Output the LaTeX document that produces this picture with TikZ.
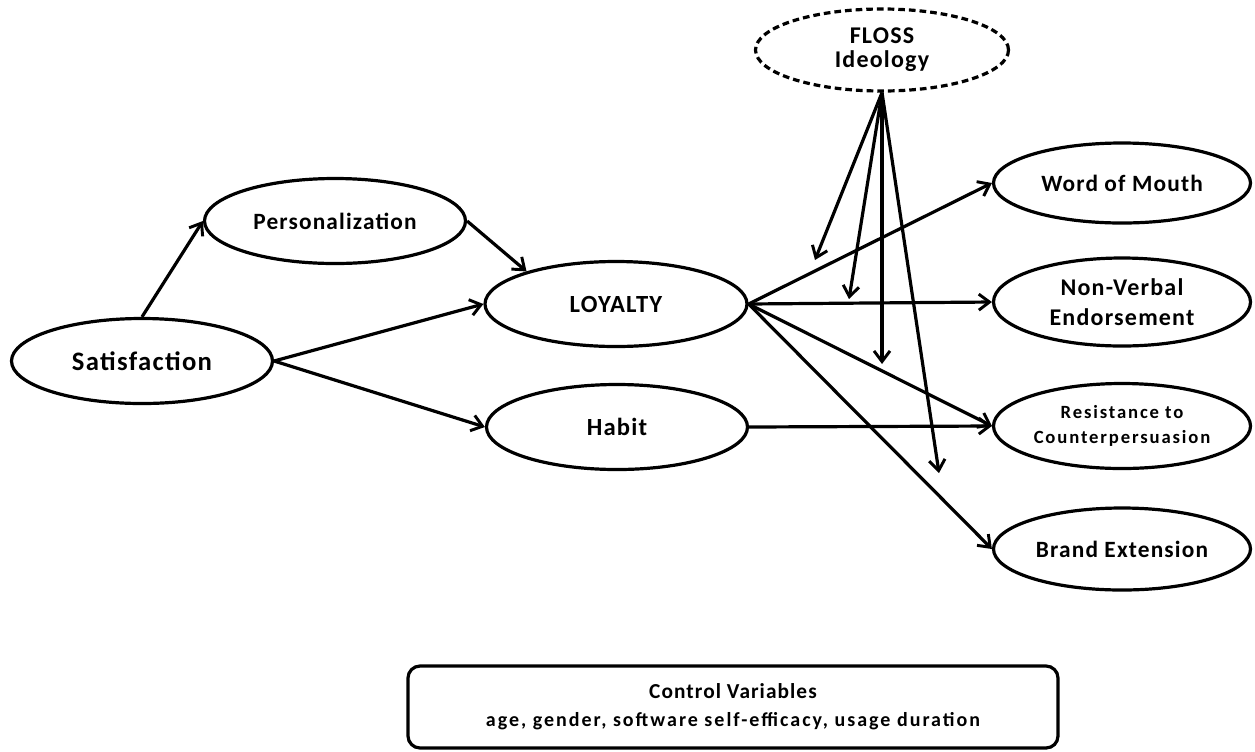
\documentclass[tikz,border=0pt]{standalone}
\usepackage{fontspec}
\setmainfont{Carlito}[LetterSpace=5]
\newfontfamily\widefont{Carlito}[LetterSpace=10]
\usetikzlibrary{shapes.geometric,arrows.meta}
\tikzset{
  lat/.style={ellipse,draw,line width=2.4pt,inner sep=0pt,align=center,font=\bfseries},
  arr/.style={line width=2.4pt,-{Straight Barb[length=8pt,width=12pt,line width=2.2pt]}},
}
\newcommand{\fs}[2]{\fontsize{#1}{#2}\selectfont}
\begin{document}
\begin{tikzpicture}[x=0.75pt,y=-0.75pt]
\path[use as bounding box] (0,0) rectangle (1255,751);
\node[lat,minimum width=195.75pt,minimum height=63.75pt,font=\bfseries\fs{20}{22}] (sat) at (142,361) {Satisfaction};
\node[lat,minimum width=195.75pt,minimum height=63.75pt,font=\bfseries\fs{17.5}{20}] (pers) at (335,221) {Personalization};
\node[lat,minimum width=196.5pt,minimum height=63.75pt,font=\bfseries\fs{18.5}{20}] (loy) at (616,304) {LOYALTY};
\node[lat,minimum width=195.75pt,minimum height=63.75pt,font=\bfseries\fs{18.5}{20}] (hab) at (617,427) {Habit};
\node[lat,dash pattern=on 5pt off 3pt,minimum width=189.75pt,minimum height=61.5pt,font=\bfseries\fs{18}{18}] (floss) at (882,50) {FLOSS\\Ideology};
\node[lat,minimum width=192.75pt,minimum height=60pt,font=\bfseries\fs{17.5}{20}] (wom) at (1122,183) {Word of Mouth};
\node[lat,minimum width=192.75pt,minimum height=66pt,font=\bfseries\fs{18}{22}] (nve) at (1122,302) {Non-Verbal\\Endorsement};
\node[lat,minimum width=192.75pt,minimum height=63.75pt,font=\bfseries\widefont\fs{14}{19}] (res) at (1122,426) {Resistance to\\Counterpersuasion};
\node[lat,minimum width=192.75pt,minimum height=61.5pt,font=\bfseries\fs{17.5}{20}] (bre) at (1122,549) {Brand Extension};
\node[draw,line width=2.4pt,rounded corners=9pt,minimum width=487.5pt,minimum height=61.5pt,align=center,font=\bfseries\fs{16}{21}] (ctrl) at (733,707) {Control Variables\\{\widefont\fs{15}{21}age, gender, software self-efficacy, usage duration}};
\coordinate (m1) at (815,260);
\coordinate (m2) at (849,299);
\coordinate (m3) at (882,364);
\coordinate (m4) at (939,473);
\draw[arr] (sat.north) -- (pers.west);
\draw[arr] (pers.east) -- (loy.160);
\draw[arr] (sat.east) -- (loy.west);
\draw[arr] (sat.east) -- (hab.west);
\draw[arr] (loy.east) -- (wom.west);
\draw[arr] (loy.east) -- (nve.west);
\draw[arr] (loy.east) -- (res.west);
\draw[arr] (loy.east) -- (bre.west);
\draw[arr] (hab.east) -- (res.west);
\draw[arr] (floss.south) -- (m1);
\draw[arr] (floss.south) -- (m2);
\draw[arr] (floss.south) -- (m3);
\draw[arr] (floss.south) -- (m4);
\end{tikzpicture}
\end{document}
